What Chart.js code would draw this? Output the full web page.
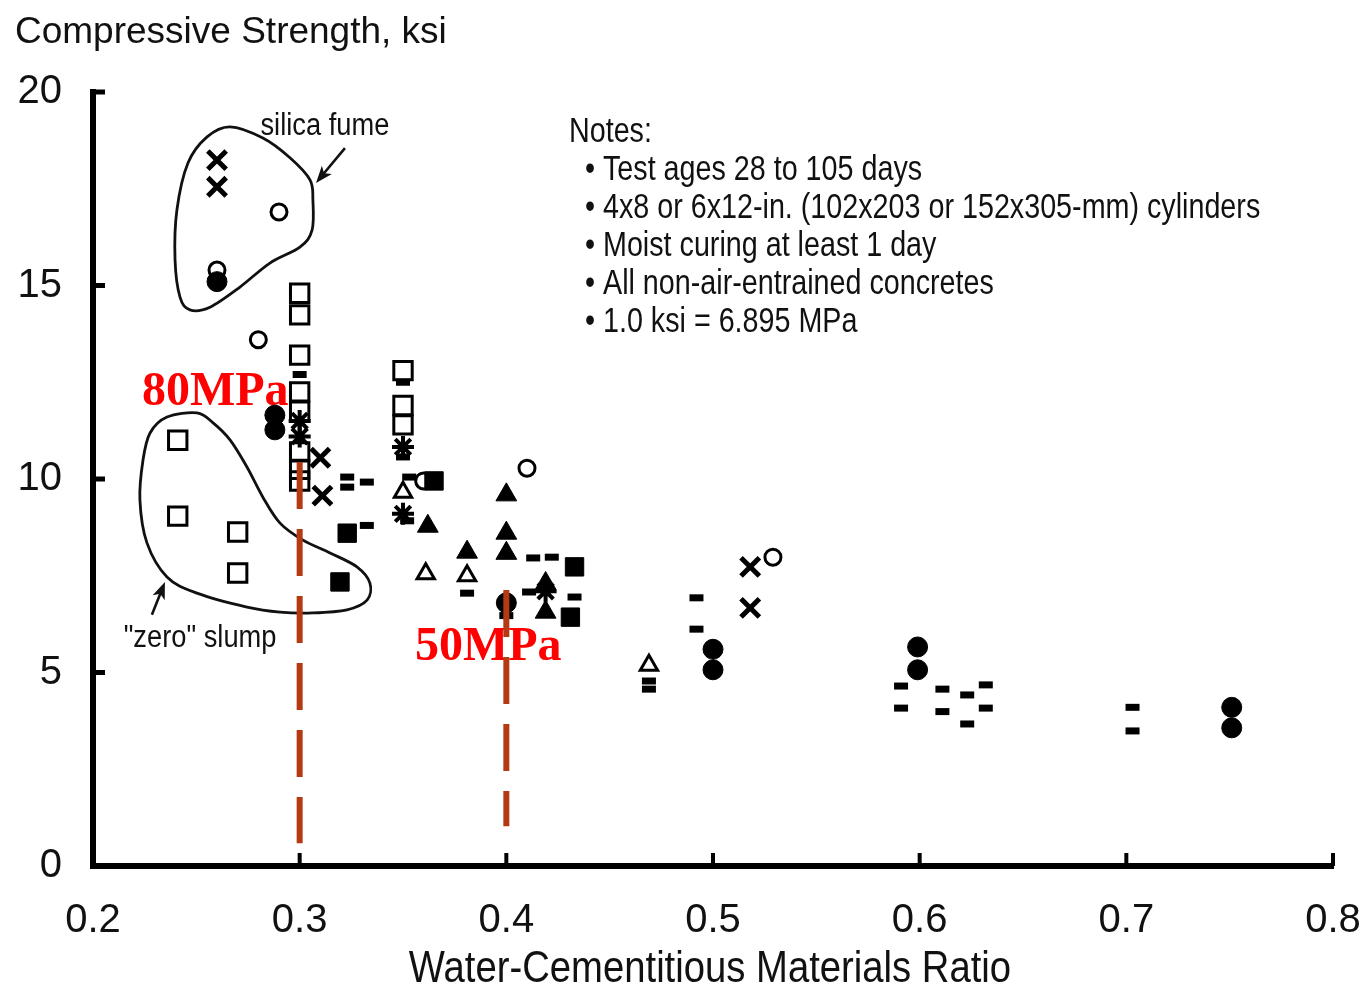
<!DOCTYPE html>
<html><head><meta charset="utf-8">
<script src="https://cdn.jsdelivr.net/npm/chart.js@4.4.0/dist/chart.umd.min.js"></script>
<style>html,body{margin:0;padding:0;background:#fff;}</style>
</head><body>
<canvas id="c" width="1361" height="994"></canvas>
<script>
// ---- tick labels ----
const xTickValues = [0.2, 0.3, 0.4, 0.5, 0.6, 0.7, 0.8];
const xTickLabels = ['0.2', '0.3', '0.4', '0.5', '0.6', '0.7', '0.8'];
const yTickValues = [0, 5, 10, 15, 20];
const yTickLabels = ['0', '5', '10', '15', '20'];
const yAxisTitle = 'Compressive Strength, ksi';
const xAxisTitle = 'Water-Cementitious Materials Ratio';
const notesTitle = 'Notes:';
const notesLines = [
  'Test ages 28 to 105 days',
  '4x8 or 6x12-in. (102x203 or 152x305-mm) cylinders',
  'Moist curing at least 1 day',
  'All non-air-entrained concretes',
  '1.0 ksi = 6.895 MPa'
];

// ---- series (w/cm ratio, ksi) ----
const openSquares = [
  {x:0.241,y:11.0},{x:0.241,y:9.04},{x:0.27,y:8.63},{x:0.27,y:7.57},
  {x:0.3,y:14.8},{x:0.3,y:14.24},{x:0.3,y:13.2},{x:0.3,y:12.25},{x:0.3,y:11.75},
  {x:0.3,y:10.7},{x:0.3,y:10.25},{x:0.3,y:9.95},
  {x:0.35,y:12.8},{x:0.35,y:11.9},{x:0.35,y:11.4}
];
const filledSquares = [
  {x:0.3195,y:7.34},{x:0.323,y:8.6},{x:0.365,y:9.95},{x:0.433,y:7.73},{x:0.431,y:6.43}
];
const openCircles = [
  {x:0.29,y:16.9},{x:0.26,y:15.4},{x:0.28,y:13.6},{x:0.36,y:9.95},{x:0.41,y:10.28},{x:0.529,y:7.98}
];
const filledCircles = [
  {x:0.26,y:15.1},{x:0.288,y:11.65},{x:0.288,y:11.27},{x:0.4,y:6.8},
  {x:0.5,y:5.6},{x:0.5,y:5.07},{x:0.599,y:5.66},{x:0.599,y:5.07},{x:0.751,y:4.1},{x:0.751,y:3.57}
];
const openTriangles = [
  {x:0.35,y:9.66},{x:0.361,y:7.55},{x:0.381,y:7.5},{x:0.469,y:5.19}
];
const filledTriangles = [
  {x:0.362,y:8.78},{x:0.381,y:8.11},{x:0.4,y:9.59},{x:0.4,y:8.6},{x:0.4,y:8.08},
  {x:0.419,y:7.3},{x:0.419,y:6.56}
];
const xMarks = [
  {x:0.26,y:18.24},{x:0.26,y:17.55},{x:0.31,y:10.55},{x:0.311,y:9.57},{x:0.518,y:7.73},{x:0.518,y:6.67}
];
const stars = [
  {x:0.3,y:11.5},{x:0.3,y:11.1},{x:0.35,y:10.83},{x:0.35,y:9.1},{x:0.419,y:7.1}
];
const dashes = [
  {x:0.3,y:12.7},{x:0.323,y:10.05},{x:0.323,y:9.79},{x:0.3325,y:9.92},{x:0.3325,y:8.8},
  {x:0.35,y:12.5},{x:0.35,y:10.57},{x:0.353,y:10.05},{x:0.352,y:8.92},
  {x:0.381,y:7.05},{x:0.4,y:6.47},
  {x:0.413,y:7.96},{x:0.422,y:7.98},{x:0.411,y:7.08},{x:0.433,y:6.95},
  {x:0.469,y:4.78},{x:0.469,y:4.57},{x:0.492,y:6.93},{x:0.492,y:6.12},
  {x:0.591,y:4.65},{x:0.591,y:4.08},{x:0.611,y:4.57},{x:0.611,y:3.99},
  {x:0.623,y:4.42},{x:0.623,y:3.67},{x:0.632,y:4.68},{x:0.632,y:4.08},
  {x:0.703,y:4.1},{x:0.703,y:3.49}
];

// ---- red reference lines & labels ----
const ref80Line = [{x:0.3,y:10.44},{x:0.3,y:0.59}];
const ref50Line = [{x:0.4,y:7.13},{x:0.4,y:1.03}];
const redLabels = [
  {text:'80MPa', x:0.2237, y:11.91},
  {text:'50MPa', x:0.3558, y:5.32}
];

// ---- annotation outlines (data coords) ----
const silicaFumeLoop = [
  {x:0.2663,y:19.10},{x:0.2822,y:18.81},{x:0.2953,y:18.30},{x:0.3050,y:17.73},{x:0.3064,y:17.21},
  {x:0.3060,y:16.43},{x:0.3001,y:15.99},{x:0.2856,y:15.58},{x:0.2711,y:14.96},{x:0.2566,y:14.44},
  {x:0.2469,y:14.37},{x:0.2421,y:14.70},{x:0.2397,y:15.66},{x:0.2406,y:16.95},{x:0.2460,y:18.17},
  {x:0.2552,y:18.84}
];
const zeroSlumpLoop = [
  {x:0.2276,y:11.19},{x:0.2358,y:11.60},{x:0.2503,y:11.71},{x:0.2581,y:11.45},{x:0.2663,y:11.01},
  {x:0.2745,y:10.31},{x:0.2822,y:9.53},{x:0.2905,y:8.86},{x:0.3016,y:8.42},{x:0.3147,y:8.09},
  {x:0.3277,y:7.73},{x:0.3340,y:7.31},{x:0.3326,y:6.87},{x:0.3229,y:6.62},{x:0.3064,y:6.54},
  {x:0.2905,y:6.56},{x:0.2745,y:6.69},{x:0.2503,y:7.05},{x:0.2358,y:7.47},{x:0.2261,y:8.35},
  {x:0.2227,y:9.46},{x:0.2242,y:10.49}
];
const silicaArrow = [{x:0.3219,y:18.55},{x:0.3079,y:17.65}];
const slumpArrow = [{x:0.2285,y:6.49},{x:0.2348,y:7.34}];
const annotLabels = [
  {text:'silica fume', x:0.3122, y:19.10},
  {text:'"zero" slump', x:0.2518, y:5.89}
];

const SANS = '"Liberation Sans", Arial, sans-serif';
const SERIF = '"Liberation Serif", "Times New Roman", serif';

function closedCurve(ctx, pts) {
  const n = pts.length;
  ctx.beginPath();
  ctx.moveTo(pts[0].x, pts[0].y);
  for (let i = 0; i < n; i++) {
    const p0 = pts[(i - 1 + n) % n], p1 = pts[i], p2 = pts[(i + 1) % n], p3 = pts[(i + 2) % n];
    ctx.bezierCurveTo(p1.x + (p2.x - p0.x) / 6, p1.y + (p2.y - p0.y) / 6,
                      p2.x - (p3.x - p1.x) / 6, p2.y - (p3.y - p1.y) / 6, p2.x, p2.y);
  }
  ctx.closePath();
  ctx.stroke();
}
function arrow(ctx, a, b) {
  const ang = Math.atan2(b.y - a.y, b.x - a.x);
  const L = 17, W = 6.5;
  ctx.beginPath(); ctx.moveTo(a.x, a.y);
  ctx.lineTo(b.x - Math.cos(ang) * L * 0.7, b.y - Math.sin(ang) * L * 0.7); ctx.stroke();
  ctx.beginPath();
  ctx.moveTo(b.x, b.y);
  ctx.lineTo(b.x - Math.cos(ang) * L - Math.sin(ang) * W, b.y - Math.sin(ang) * L + Math.cos(ang) * W);
  ctx.lineTo(b.x - Math.cos(ang) * L * 0.75, b.y - Math.sin(ang) * L * 0.75);
  ctx.lineTo(b.x - Math.cos(ang) * L + Math.sin(ang) * W, b.y - Math.sin(ang) * L - Math.cos(ang) * W);
  ctx.closePath(); ctx.fill();
}
function narrowText(ctx, text, x, y, size, sx, align) {
  ctx.save();
  ctx.font = size + 'px ' + SANS;
  ctx.translate(x, y); ctx.scale(sx, 1);
  ctx.textAlign = align || 'left';
  ctx.fillText(text, 0, 0);
  ctx.restore();
}

const annotPlugin = {
  id: 'annot',
  beforeDatasetsDraw(chart) {
    const {ctx, chartArea: ca, scales: {x, y}} = chart;
    const P = p => ({x: x.getPixelForValue(p.x), y: y.getPixelForValue(p.y)});
    ctx.save();
    ctx.strokeStyle = '#111'; ctx.fillStyle = '#111'; ctx.lineWidth = 2.8;
    closedCurve(ctx, silicaFumeLoop.map(P));
    closedCurve(ctx, zeroSlumpLoop.map(P));
    ctx.lineWidth = 2.6;
    arrow(ctx, P(silicaArrow[0]), P(silicaArrow[1]));
    arrow(ctx, P(slumpArrow[0]), P(slumpArrow[1]));
    ctx.textBaseline = 'middle';
    annotLabels.forEach(l => { const p = P(l); narrowText(ctx, l.text, p.x, p.y, 31, 0.88, 'center'); });
    // notes
    const nx = ca.left + 476, ny = ca.top + 40;
    narrowText(ctx, notesTitle, nx, ny, 35, 0.82, 'left');
    notesLines.forEach((t, i) => {
      narrowText(ctx, '\u2022', nx + 16, ny + 38 * (i + 1), 35, 0.82, 'left');
      narrowText(ctx, t, nx + 34, ny + 38 * (i + 1), 35, 0.82, 'left');
    });
    // red labels
    ctx.fillStyle = '#ff0000';
    ctx.font = 'bold 48px ' + SERIF;
    ctx.textBaseline = 'alphabetic'; ctx.textAlign = 'left';
    redLabels.forEach(l => { const p = P(l); ctx.fillText(l.text, p.x, p.y); });
    ctx.restore();
  },
  afterDraw(chart) {
    const {ctx, chartArea: ca, scales: {x, y}} = chart;
    ctx.save();
    ctx.strokeStyle = '#000'; ctx.lineCap = 'butt';
    ctx.lineWidth = 5;
    yTickValues.forEach(v => { if (v === 0) return; const py = y.getPixelForValue(v);
      ctx.beginPath(); ctx.moveTo(ca.left, py); ctx.lineTo(ca.left + 12, py); ctx.stroke(); });
    ctx.lineWidth = 4;
    xTickValues.forEach(v => { if (v === 0.2) return; const px = x.getPixelForValue(v);
      ctx.beginPath(); ctx.moveTo(px, ca.bottom); ctx.lineTo(px, ca.bottom - 13); ctx.stroke(); });
    ctx.fillStyle = '#111'; ctx.textBaseline = 'middle';
    narrowText(ctx, yAxisTitle, 15, 33, 37, 1.0, 'left');
    narrowText(ctx, xAxisTitle, (x.getPixelForValue(0.2) + x.getPixelForValue(0.8)) / 2 - 3, 970, 45, 0.85, 'center');
    ctx.restore();
  }
};

const mk = (data, style, r, bw, fill) => ({
  type: 'scatter', data, order: 1, pointStyle: style, pointRadius: r, pointHoverRadius: r,
  pointBorderWidth: bw, pointBackgroundColor: fill ? '#000' : 'rgba(0,0,0,0)', pointBorderColor: '#000'
});
const refLine = data => ({
  type: 'scatter', data, order: 0, showLine: true, pointRadius: 0, borderColor: '#b33a12',
  borderWidth: 6, borderDash: [47, 20], borderCapStyle: 'butt', fill: false
});

new Chart(document.getElementById('c'), {
  type: 'scatter',
  data: {
    datasets: [
      refLine(ref80Line), refLine(ref50Line),
      mk(openSquares, 'rect', 13, 3, false),
      mk(filledSquares, 'rect', 13, 1, true),
      mk(openCircles, 'circle', 8, 3, false),
      mk(filledCircles, 'circle', 10, 1, true),
      mk(openTriangles, 'triangle', 10, 3, false),
      mk(filledTriangles, 'triangle', 12, 1, true),
      mk(xMarks, 'crossRot', 13, 5, false),
      mk(stars, 'star', 11, 4, false),
      mk(dashes, 'line', 7, 7, true)
    ]
  },
  options: {
    responsive: false, animation: false, events: [],
    layout: {padding: {left: 0, right: 0, top: 92, bottom: 0}},
    plugins: {legend: {display: false}, tooltip: {enabled: false}},
    scales: {
      x: {
        type: 'linear', min: 0.2, max: 0.8,
        afterFit: s => { s.height = 128; s.paddingRight = 28; s.paddingLeft = 0; },
        afterBuildTicks: s => { s.ticks = xTickValues.map(v => ({value: v})); },
        ticks: {callback: v => xTickLabels[xTickValues.indexOf(v)], font: {size: 40, family: SANS}, color: '#111', padding: 31, maxRotation: 0, autoSkip: false},
        grid: {display: false, drawTicks: false},
        border: {display: true, width: 6, color: '#000'}
      },
      y: {
        type: 'linear', min: 0, max: 20,
        afterFit: s => { s.width = 93; },
        afterBuildTicks: s => { s.ticks = yTickValues.map(v => ({value: v})); },
        ticks: {callback: v => yTickLabels[yTickValues.indexOf(v)], font: {size: 40, family: SANS}, color: '#111', padding: 31, autoSkip: false},
        grid: {display: false, drawTicks: false},
        border: {display: true, width: 6, color: '#000'}
      }
    }
  },
  plugins: [annotPlugin]
});
</script>
</body></html>
